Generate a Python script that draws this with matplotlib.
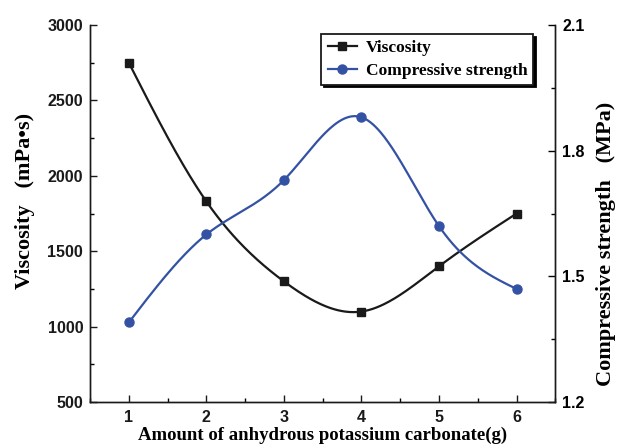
import numpy as np
import matplotlib
matplotlib.use("Agg")
import matplotlib.pyplot as plt
from matplotlib.ticker import MultipleLocator, FormatStrFormatter

amount = [1, 2, 3, 4, 5, 6]
viscosity = [2750, 1830, 1300, 1100, 1400, 1750]
strength = [1.39, 1.60, 1.73, 1.88, 1.62, 1.47]


def natural_spline(x, y, n=300):
    x = np.asarray(x, float)
    y = np.asarray(y, float)
    m = len(x)
    h = np.diff(x)
    A = np.zeros((m, m))
    b = np.zeros(m)
    A[0, 0] = 1
    A[-1, -1] = 1
    for i in range(1, m - 1):
        A[i, i - 1] = h[i - 1]
        A[i, i] = 2 * (h[i - 1] + h[i])
        A[i, i + 1] = h[i]
        b[i] = 6 * ((y[i + 1] - y[i]) / h[i] - (y[i] - y[i - 1]) / h[i - 1])
    M = np.linalg.solve(A, b)
    xs = np.linspace(x[0], x[-1], n)
    ys = np.empty_like(xs)
    for k, xv in enumerate(xs):
        i = min(max(np.searchsorted(x, xv) - 1, 0), m - 2)
        t1 = x[i + 1] - xv
        t0 = xv - x[i]
        ys[k] = (M[i] * t1 ** 3 + M[i + 1] * t0 ** 3) / (6 * h[i]) \
            + (y[i] / h[i] - M[i] * h[i] / 6) * t1 \
            + (y[i + 1] / h[i] - M[i + 1] * h[i] / 6) * t0
    return xs, ys


serif = ["Liberation Serif", "DejaVu Serif"]
sans = ["Liberation Sans", "DejaVu Sans"]

fig = plt.figure(figsize=(6.17, 4.45), dpi=100)
ax = fig.add_axes([0.146, 0.0966, 0.754, 0.847])
ax2 = ax.twinx()

black = "#1a1a1a"
blue = "#3452a4"

xs, ys = natural_spline(amount, viscosity)
ax.plot(xs, ys, color=black, lw=1.6)
ax.plot(amount, viscosity, 's', color=black, ms=6)
xs2, ys2 = natural_spline(amount, strength)
ax2.plot(xs2, ys2, color=blue, lw=1.6)
ax2.plot(amount, strength, 'o', color=blue, ms=6.5)

h1, = ax.plot([], [], '-s', color=black, lw=1.6, ms=6)
h2, = ax.plot([], [], '-o', color=blue, lw=1.6, ms=6.5)

ax.set_xlim(0.5, 6.5)
ax.set_ylim(500, 3000)
ax2.set_ylim(1.2, 2.1)

ax.xaxis.set_major_locator(MultipleLocator(1))
ax.xaxis.set_minor_locator(MultipleLocator(0.5))
ax.yaxis.set_major_locator(MultipleLocator(500))
ax.yaxis.set_minor_locator(MultipleLocator(250))
ax2.yaxis.set_major_locator(MultipleLocator(0.3))
ax2.yaxis.set_minor_locator(MultipleLocator(0.15))
ax2.yaxis.set_major_formatter(FormatStrFormatter('%.1f'))

for a in (ax, ax2):
    a.spines['top'].set_visible(False)
    for s in a.spines.values():
        s.set_linewidth(1.0)
        s.set_color(black)
ax.tick_params(axis='both', which='major', direction='in', length=5, width=1,
               labelsize=11.5, colors=black, pad=5)
ax.tick_params(axis='x', which='major', pad=6)
ax.tick_params(axis='both', which='minor', direction='in', length=3, width=1)
ax.tick_params(axis='y', which='both', right=False)
ax2.tick_params(axis='y', which='major', direction='in', length=5, width=1,
                labelsize=11.5, pad=5)
ax2.tick_params(axis='y', which='minor', direction='in', length=3, width=1)

for lab in ax.get_xticklabels() + ax.get_yticklabels() + ax2.get_yticklabels():
    lab.set_fontfamily(sans)
    lab.set_fontweight('bold')

ax.set_xlabel("Amount of anhydrous potassium carbonate(g)", family=serif,
              fontweight='bold', fontsize=13.5, labelpad=1)
ax.set_ylabel("Viscosity   (mPa•s)", family=serif, fontweight='bold', fontsize=16)
ax2.set_ylabel("Compressive strength   (MPa)", family=serif, fontweight='bold', fontsize=16)
ax.yaxis.set_label_coords(-0.118, 0.533)
ax2.yaxis.set_label_coords(1.088, 0.419)

leg = ax2.legend([h1, h2], ["Viscosity", "Compressive strength"], loc='upper right',
                 bbox_to_anchor=(0.953, 0.976), borderaxespad=0,
                 frameon=True, fancybox=False,
                 shadow={'color': 'black', 'alpha': 1.0},
                 edgecolor=black, prop={'family': serif, 'weight': 'bold', 'size': 12.5},
                 handlelength=1.7, handletextpad=0.5, borderpad=0.35, labelspacing=0.35)
leg.get_frame().set_linewidth(1.3)
leg.get_frame().set_alpha(1.0)

fig.savefig("out.png", dpi=100)
